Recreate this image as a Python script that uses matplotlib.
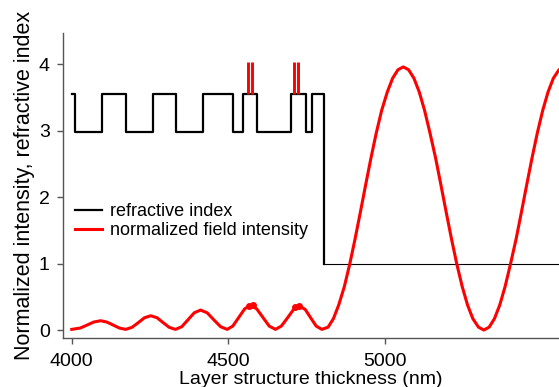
import matplotlib
matplotlib.use('Agg')
import matplotlib.pyplot as plt

plt.rcParams['font.family'] = ['Liberation Sans', 'DejaVu Sans']

# refractive index profile (layer boundaries in nm, index of the layer starting there)
index_x = [4000, 4010, 4098, 4172, 4259, 4333, 4419, 4515, 4545, 4592, 4700, 4746, 4768, 4804]
index_n = [3.55, 2.98, 3.55, 2.98, 3.55, 2.98, 3.55, 2.98, 3.55, 2.98, 3.55, 2.98, 3.55, 1.0]
air_x = [4804, 5560]
air_n = [1.0, 1.0]

# normalized field intensity
field_x = [4000, 4027, 4049, 4070, 4092, 4112, 4132, 4152, 4172,
           4192, 4212, 4232, 4252, 4272, 4292, 4311, 4331,
           4351, 4371, 4391, 4411, 4432, 4453, 4475, 4496,
           4514, 4533, 4552, 4570, 4590, 4610, 4630, 4650,
           4669, 4688, 4708, 4727, 4745, 4763, 4780, 4798,
           4818, 4835, 4852, 4870, 4887, 4904, 4921, 4938, 4955, 4972, 4989, 5007, 5024, 5041, 5058,
           5075, 5092, 5109, 5126, 5143, 5161, 5178, 5195, 5212, 5229, 5246, 5263, 5280, 5298, 5315,
           5332, 5349, 5366, 5383, 5400, 5418, 5435, 5452, 5469, 5486, 5503, 5520, 5537, 5555, 5572]
field_i = [0.01, 0.03, 0.075, 0.12, 0.14, 0.12, 0.075, 0.03, 0.01,
           0.04, 0.11, 0.185, 0.215, 0.185, 0.11, 0.04, 0.01,
           0.05, 0.155, 0.26, 0.30, 0.26, 0.155, 0.05, 0.01,
           0.06, 0.19, 0.32, 0.37, 0.32, 0.19, 0.06, 0.01,
           0.06, 0.18, 0.31, 0.36, 0.31, 0.18, 0.06, 0.01,
           0.043, 0.171, 0.378, 0.655, 0.99, 1.368, 1.773, 2.187, 2.592, 2.97, 3.305, 3.582, 3.789, 3.917, 3.96,
           3.917, 3.789, 3.582, 3.305, 2.97, 2.592, 2.187, 1.773, 1.368, 0.99, 0.655, 0.378, 0.171, 0.043, 0.0,
           0.043, 0.171, 0.378, 0.655, 0.99, 1.368, 1.773, 2.187, 2.592, 2.97, 3.305, 3.582, 3.789, 3.917, 3.96]

# quantum well markers
well_x = [4561, 4575, 4708, 4722]
well_bottom = 3.55
well_top = 4.03
dot_x = [4565, 4577, 4712, 4725]
dot_i = [0.36, 0.37, 0.34, 0.36]

fig = plt.figure(figsize=(5.59, 3.87), dpi=100)
ax = fig.add_axes([0.1127, 0.1266, 0.8873, 0.7881])

ax.plot(index_x, index_n, drawstyle='steps-post', color='black', lw=1.6,
        label='refractive index')
ax.plot(air_x, air_n, color='black', lw=0.8)
ax.vlines(well_x, well_bottom, well_top, color='red', lw=2.1)
ax.plot(field_x, field_i, color='red', lw=2.2, label='normalized field intensity')
ax.plot(dot_x, dot_i, 'o', color='red', ms=4, lw=0)

ax.set_xlim(3972, 5555)
ax.set_ylim(-0.12, 4.47)
ax.set_xticks([4000, 4500, 5000])
ax.set_yticks([0, 1, 2, 3, 4])

for side in ['top', 'right']:
    ax.spines[side].set_visible(False)
for side in ['left', 'bottom']:
    ax.spines[side].set_color('#555555')
    ax.spines[side].set_linewidth(1.0)
ax.tick_params(direction='out', length=4.5, width=1, color='#555555', labelsize=14)
ax.tick_params(axis='x', pad=6)
ax.tick_params(axis='y', pad=5)

ax.set_xlabel('Layer structure thickness (nm)', fontsize=14, labelpad=1)
ax.set_ylabel('Normalized intensity, refractive index', fontsize=15.5, labelpad=3)

ax.legend(loc='center left', bbox_to_anchor=(-0.008, 0.383), frameon=False, fontsize=13,
          handlelength=1.5, handletextpad=0.4, labelspacing=0.1)

fig.savefig('out.png', dpi=100)
